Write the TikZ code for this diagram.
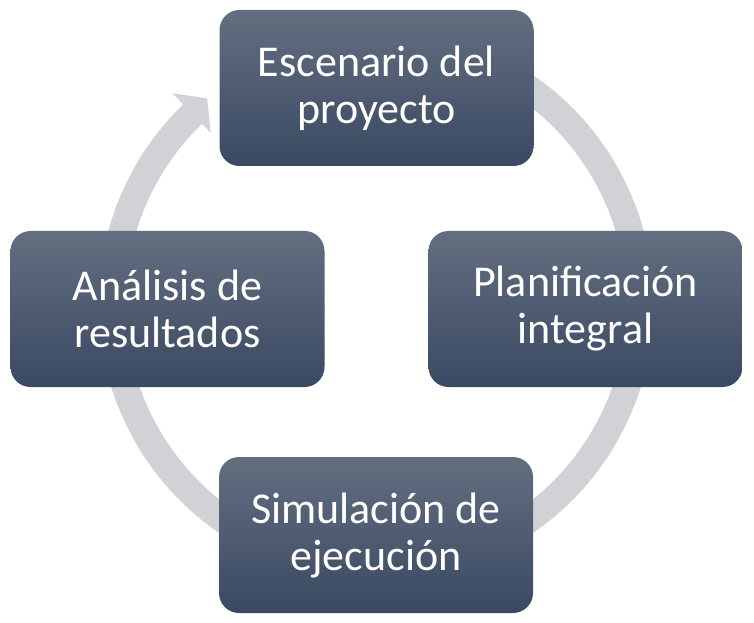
\documentclass[tikz,border=0pt]{standalone}
\usepackage{fontspec}
\setmainfont{Carlito}
\definecolor{ringgray}{RGB}{208,210,214}
\definecolor{boxtop}{RGB}{99,110,128}
\definecolor{boxbot}{RGB}{58,73,98}
\tikzset{
  stagebox/.style={rectangle, rounded corners=20pt, top color=boxtop, bottom color=boxbot,
    draw=none, text=white, align=center, minimum width=314pt, minimum height=156pt,
    inner sep=0pt, font=\fontsize{44}{47}\selectfont},
  ringline/.style={draw=ringgray, line width=27pt},
}
\begin{document}
\begin{tikzpicture}[x=1pt,y=1pt]
\useasboundingbox (0,0) rectangle (754,622);
\coordinate (c) at (376,318);
% cycle ring with arrow head
\draw[ringline] ([shift={(c)}]65:264) arc[start angle=65, end angle=-226.8, radius=264];
\fill[ringgray] ([shift={(c)}]134:238) -- ([shift={(c)}]129.4:266) -- ([shift={(c)}]134:293) -- cycle;
% stages
\node[stagebox] (top) at (376.5,534) {Escenario del\\proyecto};
\node[stagebox] (right) at (585.5,313) {Planificación\\integral};
\node[stagebox] (bottom) at (376,87) {Simulación de\\ejecución};
\node[stagebox] (left) at (167.5,313) {Análisis de\\resultados};
\end{tikzpicture}
\end{document}
